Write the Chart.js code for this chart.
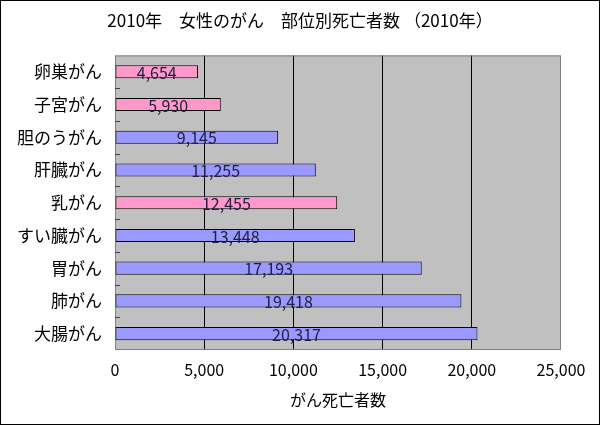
<!DOCTYPE html>
<html>
<head>
<meta charset="utf-8">
<script src="https://cdn.jsdelivr.net/npm/chart.js@4"></script>
<style>
  body { margin: 0; background: #fff; }
  canvas { display: block; }
</style>
</head>
<body>
<canvas id="chart" width="600" height="425"></canvas>
<script>
// 部位別死亡者数 (女性, 2010年)
var sites = ['卵巣がん', '子宮がん', '胆のうがん', '肝臓がん', '乳がん', 'すい臓がん', '胃がん', '肺がん', '大腸がん'];
var deaths = [4654, 5930, 9145, 11255, 12455, 13448, 17193, 19418, 20317];
var femaleOnly = [true, true, false, false, true, false, false, false, false];
var xTicks = [0, 5000, 10000, 15000, 20000, 25000];

var FONT = "'Noto Sans CJK JP', 'Noto Sans', sans-serif";

var barColors = femaleOnly.map(function (f) { return f ? '#FF99CC' : '#9999FF'; });

// white page, grey plot area and outer frame
var framePlugin = {
  id: 'frame',
  beforeDraw: function (chart) {
    var ctx = chart.ctx, a = chart.chartArea;
    ctx.save();
    ctx.fillStyle = '#ffffff';
    ctx.fillRect(0, 0, chart.width, chart.height);
    ctx.fillStyle = '#C0C0C0';
    ctx.fillRect(a.left, a.top, a.right - a.left, a.bottom - a.top);
    ctx.restore();
  },
  beforeDatasetsDraw: function (chart) {
    var ctx = chart.ctx, a = chart.chartArea;
    var y = chart.scales.y;
    ctx.save();
    ctx.strokeStyle = '#808080';
    ctx.lineWidth = 1;
    ctx.strokeRect(a.left + 0.5, a.top + 0.5, a.right - a.left - 1, a.bottom - a.top - 1);
    // small ticks between categories
    ctx.strokeStyle = '#404040';
    ctx.beginPath();
    for (var i = 1; i < sites.length; i++) {
      var py = Math.round((y.getPixelForTick(i - 1) + y.getPixelForTick(i)) / 2) + 0.5;
      ctx.moveTo(a.left, py);
      ctx.lineTo(a.left + 5, py);
    }
    ctx.stroke();
    ctx.restore();
  },
  afterDatasetsDraw: function (chart) {
    var ctx = chart.ctx;
    var meta = chart.getDatasetMeta(0);
    ctx.save();
    ctx.font = '16px ' + FONT;
    ctx.fillStyle = '#202040';
    ctx.textAlign = 'center';
    ctx.textBaseline = 'middle';
    meta.data.forEach(function (bar, i) {
      var cx = (bar.x + bar.base) / 2;
      ctx.fillText(deaths[i].toLocaleString('en-US'), cx, bar.y + 1);
    });
    ctx.restore();
  },
  afterDraw: function (chart) {
    var ctx = chart.ctx;
    ctx.save();
    ctx.strokeStyle = '#000';
    ctx.lineWidth = 1;
    ctx.strokeRect(0.5, 0.5, chart.width - 1, chart.height - 1);
    ctx.restore();
  }
};

var ctx = document.getElementById('chart').getContext('2d');
var chart = new Chart(ctx, {
  type: 'bar',
  data: {
    labels: sites,
    datasets: [{
      label: '死亡者数',
      data: deaths,
      backgroundColor: barColors,
      borderColor: '#000000',
      borderWidth: 1,
      borderSkipped: false,
      barPercentage: 0.4,
      categoryPercentage: 1.0
    }]
  },
  options: {
    indexAxis: 'y',
    responsive: false,
    animation: false,
    devicePixelRatio: 1,
    layout: { padding: 0 },
    plugins: {
      legend: { display: false },
      tooltip: { enabled: false },
      title: {
        display: true,
        text: '2010年　女性のがん　部位別死亡者数 （2010年）',
        color: '#000',
        font: { family: FONT, size: 17, weight: 'normal' },
        padding: { top: 10, bottom: 25 }
      }
    },
    scales: {
      x: {
        min: 0,
        max: 25000,
        afterBuildTicks: function (scale) {
          scale.ticks = xTicks.map(function (v) { return { value: v }; });
        },
        afterFit: function (scale) { scale.height = 75; },
        grid: {
          color: function (c) {
            return (c.tick && (c.tick.value === 0 || c.tick.value === 25000)) ? 'rgba(0,0,0,0)' : '#000000';
          },
          lineWidth: 1,
          drawTicks: false
        },
        border: { display: false },
        ticks: {
          padding: 10,
          color: '#000',
          font: { family: FONT, size: 16 },
          callback: function (v) { return v.toLocaleString('en-US'); }
        },
        title: {
          display: true,
          text: 'がん死亡者数',
          color: '#000',
          font: { family: FONT, size: 16 },
          padding: { top: 0, bottom: 15 }
        }
      },
      y: {
        afterFit: function (scale) { scale.width = 115; },
        grid: { display: false, drawTicks: false },
        border: { display: false },
        ticks: {
          padding: 13,
          color: '#000',
          font: { family: FONT, size: 17 }
        }
      },
      // empty right-hand axis only to keep the right margin
      yr: {
        position: 'right',
        afterFit: function (scale) { scale.width = 39; },
        grid: { display: false },
        border: { display: false },
        ticks: { display: false }
      }
    }
  },
  plugins: [framePlugin]
});
</script>
</body>
</html>
